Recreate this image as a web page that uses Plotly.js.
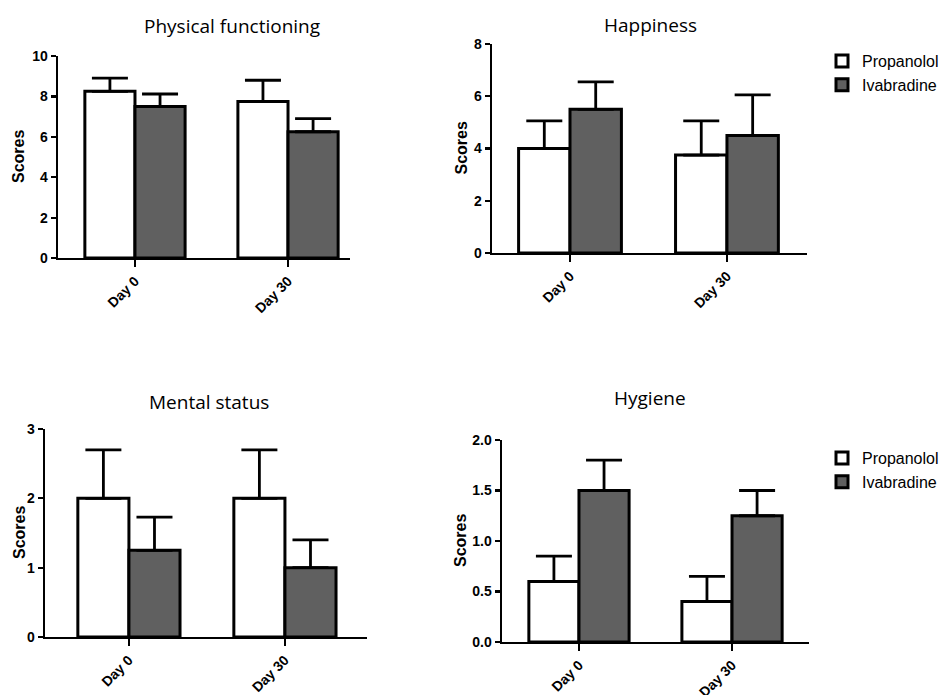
<!DOCTYPE html>
<html>
<head>
<meta charset="utf-8">
<script src="https://cdn.plot.ly/plotly-3.0.1.min.js"></script>
<style>html,body{margin:0;padding:0;background:#fff;}#chart{width:944px;height:695px;}</style>
</head>
<body>
<div id="chart"></div>
<script>
const categories = ['Day 0', 'Day 30'];
const seriesNames = ['Propanolol', 'Ivabradine'];

const physProp = [8.25, 7.75];
const physPropErr = [0.65, 1.05];
const physIvab = [7.5, 6.25];
const physIvabErr = [0.62, 0.65];

const happProp = [4.0, 3.75];
const happPropErr = [1.06, 1.31];
const happIvab = [5.5, 4.5];
const happIvabErr = [1.05, 1.55];

const mentProp = [2.0, 2.0];
const mentPropErr = [0.7, 0.7];
const mentIvab = [1.25, 1.0];
const mentIvabErr = [0.48, 0.4];

const hygProp = [0.6, 0.4];
const hygPropErr = [0.25, 0.25];
const hygIvab = [1.5, 1.25];
const hygIvabErr = [0.3, 0.25];

const panelTitles = ['Physical functioning', 'Happiness', 'Mental status', 'Hygiene'];

const W = 944, H = 695;
const fillColors = ['#ffffff', '#606060'];

function barTrace(vals, errs, idx, ax, legendName, showLeg) {
  return {
    type: 'bar',
    x: categories,
    y: vals,
    name: seriesNames[idx],
    xaxis: 'x' + ax,
    yaxis: 'y' + ax,
    legend: legendName,
    showlegend: showLeg,
    marker: {color: fillColors[idx], line: {color: '#000', width: 3}},
    error_y: {type: 'data', array: errs, arrayminus: errs.map(() => 0), symmetric: false,
              color: '#000', thickness: 2.8, width: 18},
    hoverinfo: 'skip'
  };
}

const data = [
  barTrace(physProp, physPropErr, 0, '', 'legend', false),
  barTrace(physIvab, physIvabErr, 1, '', 'legend', false),
  barTrace(happProp, happPropErr, 0, '2', 'legend', true),
  barTrace(happIvab, happIvabErr, 1, '2', 'legend', true),
  barTrace(mentProp, mentPropErr, 0, '3', 'legend2', false),
  barTrace(mentIvab, mentIvabErr, 1, '3', 'legend2', false),
  barTrace(hygProp, hygPropErr, 0, '4', 'legend2', true),
  barTrace(hygIvab, hygIvabErr, 1, '4', 'legend2', true)
];
data[0].xaxis = 'x'; data[0].yaxis = 'y';
data[1].xaxis = 'x'; data[1].yaxis = 'y';

const xTickFont = {family: 'Liberation Sans, Arial, sans-serif', size: 14, color: '#000', weight: 'bold'};
const yTickFont = {family: 'Liberation Sans, Arial, sans-serif', size: 14, color: '#000', weight: 'bold'};

function xax(px0, px1, range) {
  return {
    domain: [px0 / W, px1 / W], range: range, type: 'category',
    showline: true, linecolor: '#000', linewidth: 2.4,
    ticks: 'outside', ticklen: 7, tickwidth: 2.2, tickcolor: '#000',
    tickangle: -45, tickfont: xTickFont, showgrid: false, zeroline: false, fixedrange: true
  };
}
function yax(py0, py1, range, dtick, fmt, anchor) {
  return {
    domain: [1 - py1 / H, 1 - py0 / H], range: range, anchor: anchor,
    showline: true, linecolor: '#000', linewidth: 2.4,
    ticks: 'outside', ticklen: 5, tickwidth: 2.2, tickcolor: '#000',
    dtick: dtick, tick0: 0, tickformat: fmt, tickfont: yTickFont,
    showgrid: false, zeroline: false, fixedrange: true
  };
}

const titleFont = {family: 'Open Sans, sans-serif', size: 19, color: '#000'};
const scoresFont = {family: 'Liberation Sans, Arial, sans-serif', size: 16, color: '#000', weight: 'bold'};

function titleAnn(text, cx, cy) {
  return {text: text, xref: 'paper', yref: 'paper', x: cx / W, y: 1 - cy / H,
          xanchor: 'center', yanchor: 'middle', showarrow: false, font: titleFont};
}
function scoresAnn(cx, yref) {
  return {text: 'Scores', xref: 'paper', yref: yref, x: cx / W, y: 0.5,
          xanchor: 'center', yanchor: 'middle', textangle: -90, showarrow: false, font: scoresFont};
}

const legendFont = {family: 'Liberation Sans, Arial, sans-serif', size: 16, color: '#000'};

const layout = {
  width: W, height: H,
  margin: {l: 0, r: 0, t: 0, b: 0},
  paper_bgcolor: '#fff', plot_bgcolor: '#fff',
  barmode: 'group', bargap: 0.345, bargroupgap: 0,
  showlegend: true,
  legend: {x: 822 / W, y: 1 - 44 / H, xanchor: 'left', yanchor: 'top', font: legendFont,
           bgcolor: 'rgba(0,0,0,0)', tracegroupgap: 0, itemclick: false},
  legend2: {x: 822 / W, y: 1 - 441 / H, xanchor: 'left', yanchor: 'top', font: legendFont,
            bgcolor: 'rgba(0,0,0,0)', tracegroupgap: 0, itemclick: false},
  xaxis: Object.assign(xax(58, 350, [-0.503, 1.405]), {anchor: 'y'}),
  yaxis: yax(56, 258, [0, 10], 2, 'd', 'x'),
  xaxis2: Object.assign(xax(492, 807, [-0.497, 1.51]), {anchor: 'y2'}),
  yaxis2: yax(44, 253, [0, 8], 2, 'd', 'x2'),
  xaxis3: Object.assign(xax(45, 367, [-0.538, 1.526]), {anchor: 'y3'}),
  yaxis3: yax(429, 637, [0, 3], 1, 'd', 'x3'),
  xaxis4: Object.assign(xax(502, 809, [-0.503, 1.503]), {anchor: 'y4'}),
  yaxis4: yax(440, 642, [0, 2], 0.5, '.1f', 'x4'),
  annotations: [
    titleAnn(panelTitles[0], 232, 26),
    titleAnn(panelTitles[1], 650, 25),
    titleAnn(panelTitles[2], 209, 402),
    titleAnn(panelTitles[3], 650, 398),
    scoresAnn(19, 'y domain'),
    scoresAnn(461, 'y2 domain'),
    scoresAnn(19, 'y3 domain'),
    scoresAnn(460, 'y4 domain')
  ]
};

Plotly.newPlot('chart', data, layout, {staticPlot: true, displayModeBar: false});
</script>
</body>
</html>
